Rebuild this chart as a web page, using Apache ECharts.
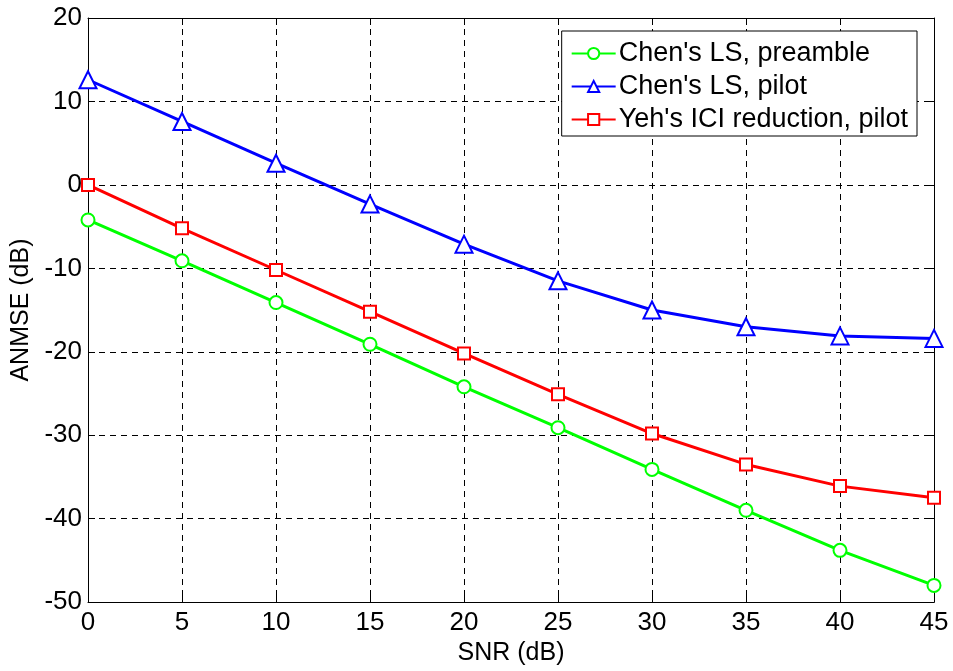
<!DOCTYPE html>
<html><head><meta charset="utf-8">
<script src="https://cdn.jsdelivr.net/npm/echarts@6/dist/echarts.min.js"></script>
<style>html,body{margin:0;padding:0;background:#fff}#c{width:953px;height:671px}</style>
</head><body><div id="c"></div>
<script>
const snr = [0, 5, 10, 15, 20, 25, 30, 35, 40, 45];
const chenPreamble = [-4.2, -9.1, -14.1, -19.1, -24.2, -29.1, -34.1, -39.0, -43.8, -48.0];
const chenPilot = [12.6, 7.6, 2.6, -2.3, -7.1, -11.5, -15.0, -17.0, -18.1, -18.4];
const yehPilot = [0.0, -5.2, -10.2, -15.2, -20.2, -25.1, -29.8, -33.5, -36.1, -37.5];
const names = ["Chen's LS, preamble", "Chen's LS, pilot", "Yeh's ICI reduction, pilot"];
const colors = ['#00ff00', '#0000ff', '#ff0000'];
const symbols = ['emptyCircle', 'emptyTriangle', 'emptyRect'];
const sizes = [13, 17, 12];
const datas = [chenPreamble, chenPilot, yehPilot];
const font = 'Liberation Sans, Arial, sans-serif';

const splitStyle = {show: true, lineStyle: {color: '#000', type: [6, 5], width: 1}};
const tick = {show: true, inside: true, length: 7, lineStyle: {color: '#000'}};
const line = {show: true, onZero: false, lineStyle: {color: '#000', width: 1}};

const chart = echarts.init(document.getElementById('c'));
chart.setOption({
  animation: false,
  backgroundColor: '#fff',
  grid: {left: 88, top: 18, right: 19, bottom: 67},
  legend: {
    right: 36, top: 31, orient: 'vertical', itemGap: 6, itemWidth: 44, itemHeight: 14,
    backgroundColor: '#fff', borderColor: '#000', borderWidth: 1, borderRadius: 0,
    padding: [9, 9, 3, 9],
    textStyle: {fontFamily: font, fontSize: 27, color: '#000', padding: [0, 0, 0, -2]},
    data: names
  },
  xAxis: [{
    type: 'value', min: 0, max: 45, interval: 5,
    name: 'SNR (dB)', nameLocation: 'middle', nameGap: 36,
    nameTextStyle: {fontFamily: font, fontSize: 25, color: '#000'},
    axisLine: line, axisTick: tick,
    axisLabel: {fontFamily: font, fontSize: 26, color: '#000', margin: 8},
    splitLine: splitStyle
  }, {
    type: 'value', min: 0, max: 45, interval: 5, position: 'top',
    axisLine: line, axisTick: tick, axisLabel: {show: false}, splitLine: {show: false}
  }],
  yAxis: [{
    type: 'value', min: -50, max: 20, interval: 10,
    name: 'ANMSE (dB)', nameLocation: 'middle', nameGap: 50, nameRotate: 90,
    nameTextStyle: {fontFamily: font, fontSize: 25, color: '#000'},
    axisLine: line, axisTick: tick,
    axisLabel: {fontFamily: font, fontSize: 26, color: '#000', margin: 6},
    splitLine: splitStyle
  }, {
    type: 'value', min: -50, max: 20, interval: 10, position: 'right',
    axisLine: line, axisTick: tick, axisLabel: {show: false}, splitLine: {show: false}
  }],
  series: names.map((n, i) => ({
    name: n, type: 'line',
    data: snr.map((x, j) => [x, datas[i][j]]),
    symbol: symbols[i], symbolSize: sizes[i],
    lineStyle: {color: colors[i], width: 3},
    itemStyle: {color: colors[i], borderColor: colors[i], borderWidth: 2.5},
    z: 3 + i
  }))
});
</script></body></html>
